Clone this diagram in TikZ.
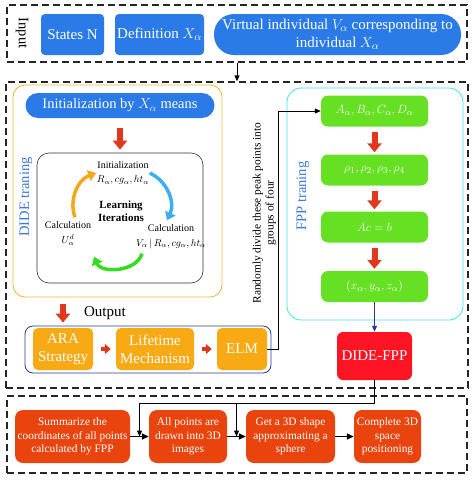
\documentclass[tikz,border=0pt]{standalone}
\usepackage{amsmath}
\usepackage{fontspec}
\setmainfont{Liberation Serif}
\usetikzlibrary{arrows.meta,calc}
\definecolor{inblue}{HTML}{2A7AE8}
\definecolor{lblblue}{HTML}{3A78E0}
\definecolor{dideyel}{HTML}{F2B52A}
\definecolor{araor}{HTML}{F7AA14}
\definecolor{outnavy}{HTML}{2A3A8C}
\definecolor{fppcyan}{HTML}{3FE3F0}
\definecolor{fppgreen}{HTML}{66E022}
\definecolor{dfppred}{HTML}{FF1424}
\definecolor{botred}{HTML}{E9440E}
\definecolor{arrred}{HTML}{E0381C}
\definecolor{cycor}{HTML}{F5A81E}
\definecolor{cycblue}{HTML}{3DAEF0}
\definecolor{cycgreen}{HTML}{33DD22}
\tikzset{
	dashbox/.style={draw=black!85,line width=1.3pt,dash pattern=on 7pt off 4pt,minimum width=460pt},
	bluebox/.style={fill=inblue,text=white,rounded corners=4pt,minimum height=41pt,inner sep=1pt,align=center,font=\fontsize{15}{18}\selectfont},
	orbox/.style={fill=araor,text=white,rounded corners=5pt,minimum height=42pt,inner sep=1pt,align=center,font=\fontsize{15}{18}\selectfont},
	grbox/.style={fill=fppgreen,text=white,rounded corners=7pt,minimum width=107pt,minimum height=31pt,inner sep=1pt,font=\fontsize{13}{15}\selectfont},
	btbox/.style={fill=botred,text=white,rounded corners=8pt,minimum height=53pt,inner sep=1pt,align=center,font=\fontsize{11.4}{13.5}\selectfont},
	smalltxt/.style={inner sep=0.5pt,align=center,font=\fontsize{10}{14.5}\selectfont},
	sidelbl/.style={rotate=90,text=lblblue,font=\fontsize{14.5}{16}\selectfont},
	redarr/.style={arrred,line width=6pt,-{Triangle[length=9pt,width=14pt]}},
	smallarr/.style={arrred,line width=4pt,-{Triangle[length=6pt,width=10pt]}},
	cyc/.style={line width=3.5pt,-{Triangle[length=8pt,width=11pt]}},
	conn/.style={black,line width=1pt,-{Triangle[length=6pt,width=5pt]}},
	barr/.style={black,line width=1.5pt,-{Triangle[length=7pt,width=6pt]}}
}
\begin{document}
\begin{tikzpicture}[x=1pt,y=-1pt]
	\useasboundingbox (0,0) rectangle (474,480);
	\node[dashbox,minimum height=57pt] (inbox) at (237,33.5) {};
	\node[dashbox,minimum width=462pt,minimum height=306pt] (midbox) at (237,235) {};
	\node[dashbox,minimum height=77pt] (botbox) at (237,434.5) {};
	\node[rotate=-90,font=\fontsize{14.5}{16}\selectfont] (inlbl) at (22,33) {Input};
	\node[bluebox,minimum width=63pt] (states) at (72.5,34.5) {States N};
	\node[bluebox,minimum width=89pt] (defx) at (159.5,34.5) {Definition $X_\alpha$};
	\node[bluebox,minimum width=247pt,rounded corners=20pt] (virt) at (337.5,34.5) {Virtual individual $V_\alpha$ corresponding to\\individual $X_\alpha$};
	\draw[conn] (inbox.south) -- (midbox.north);

	\node[draw=dideyel,line width=0.8pt,rounded corners=12pt,minimum width=209pt,minimum height=212pt] (dide) at (117.5,191) {};
	\node[bluebox,minimum width=189pt,minimum height=25pt,rounded corners=12.5pt,font=\fontsize{14.5}{16}\selectfont] (initpill) at (120,105.5) {Initialization by $X_\alpha$ means};
	\node[draw=black!80,line width=0.6pt,rounded corners=12pt,minimum width=166pt,minimum height=130pt] (learnbox) at (120,218) {};
	\node[sidelbl] (didelbl) at (26,197) {DIDE traning};
	\node[smalltxt] (initT) at (123,173) {Initialization\\$R_\alpha,cg_\alpha,ht_\alpha$};
	\node[smalltxt,font=\bfseries\fontsize{11}{13}\selectfont] (iter) at (121,211) {Learning\\Iterations};
	\node[smalltxt] (calcL) at (68,234) {Calculation\\$U_\alpha^d$};
	\node[smalltxt] (calcR) at (171,237) {Calculation\\$V_\alpha\,|\,R_\alpha,cg_\alpha,ht_\alpha$};
	\draw[cyc,cycor] ([xshift=7pt,yshift=4pt]calcL.north) to[bend left=45] (initT.west);
	\draw[cyc,cycblue] (initT.east) to[bend left=45] ([xshift=-4pt,yshift=4pt]calcR.north);
	\draw[cyc,cycgreen] ([xshift=-29pt,yshift=-4pt]calcR.south) to[bend left=70] ([xshift=26pt,yshift=-10pt]calcL.south);
	\draw[redarr,shorten <=10pt,shorten >=3pt] (initpill.south) -- (learnbox.north);

	\node[draw=outnavy,line width=0.8pt,rounded corners=8pt,minimum width=246pt,minimum height=47pt] (outbox) at (148,349.5) {};
	\node[font=\fontsize{15}{18}\selectfont] (outlbl) at (105,313) {Output};
	\node[orbox,minimum width=60pt] (ara) at (63,349) {ARA\\Strategy};
	\node[orbox,minimum width=78pt] (life) at (155,349) {Lifetime\\Mechanism};
	\node[orbox,minimum width=50pt] (elm) at (242,349) {ELM};
	\draw[redarr,shorten <=7pt,shorten >=3pt] (ara.north |- dide.south) -- (ara.north |- outbox.north);
	\draw[smallarr,shorten <=8pt,shorten >=5pt] (ara) -- (life);
	\draw[smallarr,shorten <=8pt,shorten >=5pt] (life) -- (elm);

	\node[draw=fppcyan,line width=0.8pt,rounded corners=14pt,minimum width=176pt,minimum height=232pt] (fpp) at (375,204) {};
	\node[sidelbl] (fpplbl) at (303,196) {FPP traning};
	\node[grbox] (fA) at (374.5,111) {$A_\alpha,B_\alpha,C_\alpha,D_\alpha$};
	\node[grbox] (fR) at (374.5,170) {$\rho_1,\rho_2,\rho_3,\rho_4$};
	\node[grbox] (fE) at (374.5,227) {$Ac=b$};
	\node[grbox] (fX) at (374.5,286.5) {$(x_\alpha,y_\alpha,z_\alpha)$};
	\foreach \a/\b in {fA/fR,fR/fE,fE/fX}
		\draw[redarr,shorten <=5pt,shorten >=2pt] (\a) -- (\b);
	\node[fill=dfppred,text=white,rounded corners=6pt,minimum width=75pt,minimum height=48pt,font=\fontsize{15}{18}\selectfont] (dfpp) at (374.5,356) {DIDE-FPP};
	\draw[outnavy,line width=1pt,-{Triangle[length=6pt,width=5pt]}] (fX) -- (dfpp);
	\node[rotate=90,align=center,font=\fontsize{11.4}{13}\selectfont] (randlbl) at (264.5,213) {Randomly divide these peak points into\\groups of four};
	\draw[conn] (elm.east) -- ++(11,0) |- (fA.west);

	\node[btbox,minimum width=115pt] (summ) at (72.5,436.5) {Summarize the\\coordinates of all points\\calculated by FPP};
	\node[btbox,minimum width=78pt] (allp) at (188,436.5) {All points are\\drawn into 3D\\images};
	\node[btbox,minimum width=89pt] (get3d) at (290.5,436.5) {Get a 3D shape\\approximating a\\sphere};
	\node[btbox,minimum width=67pt] (compl) at (387.5,436.5) {Complete 3D\\space\\positioning};
	\foreach \a/\b in {summ/allp,allp/get3d,get3d/compl}
		\draw[barr] (\a) -- (\b);
	\coordinate (m1) at ($(summ.east)!.5!(allp.west)$);
	\coordinate (m2) at ($(allp.east)!.5!(get3d.west)$);
	\draw[conn] (dfpp.south) -- ++(0,23) coordinate (jn) -| (m1);
	\draw[conn] (m2 |- jn) -- (m2);
\end{tikzpicture}
\end{document}
